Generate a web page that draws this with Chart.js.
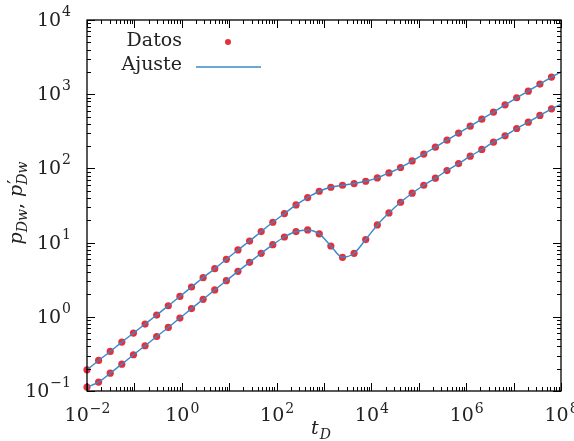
<!DOCTYPE html>
<html>
<head>
<meta charset="utf-8">
<script src="https://cdn.jsdelivr.net/npm/chart.js@4.4.1/dist/chart.umd.min.js"></script>
<style>
  body { margin: 0; background: #fff; }
  #wrap { width: 574px; height: 441px; }
</style>
</head>
<body>
<div id="wrap"><canvas id="myChart"></canvas></div>
<script>
// t_D sample times (~4 per decade)
const tD = [0.01, 0.01758, 0.0309, 0.05433, 0.0955, 0.1679, 0.2951, 0.5188, 0.912,
  1.603, 2.818, 4.955, 8.71, 15.31, 26.92, 47.32, 83.18, 146.2, 257.0, 451.9, 794.3,
  1396, 2455, 4315, 7586, 13335, 23442, 41210, 72444, 127350, 223872, 393550, 691831,
  1216186, 2137962, 3758374, 6606934, 11614486, 20417379, 35892193, 63095734];
// p_Dw (upper curve)
const pDw = [0.193, 0.258, 0.341, 0.456, 0.603, 0.798, 1.055, 1.41, 1.88, 2.52, 3.37,
  4.45, 5.95, 7.96, 10.5, 14.1, 18.8, 24.6, 32.2, 40.5, 49.2, 55.7, 59.3, 62.5, 67.1,
  74.5, 86.9, 102.8, 126, 156, 193, 240, 299, 371, 461, 573, 719, 895, 1100, 1370, 1700];
// p'_Dw (lower curve, derivative)
const dpDw = [0.113, 0.132, 0.174, 0.23, 0.308, 0.407, 0.543, 0.719, 0.962, 1.29, 1.72,
  2.3, 3.07, 4.1, 5.42, 7.18, 9.39, 11.9, 14.1, 14.8, 13.1, 9.0, 6.34, 7.18, 11.0, 17.3,
  25.1, 35.0, 46.3, 59.3, 73.8, 93.6, 116, 146, 180, 226, 275, 345, 420, 518, 635];
// where the fitted lines reach the right edge
const tFitEnd = [1e8];
const pDwFitEnd = [2000];
const dpDwFitEnd = [728];

const xTickExps = [-2, 0, 2, 4, 6, 8];
const yTickExps = [-1, 0, 1, 2, 3, 4];
const legendLabels = ['Datos', 'Ajuste'];

const serif = '"DejaVu Serif", serif';
const dotColor = 'rgba(226, 30, 42, 0.92)';
const lineColor = '#3a88c6';

function toPoints(xs, ys) {
  return xs.map((x, i) => ({ x: x, y: ys[i] }));
}

function supText(e) {
  return e < 0 ? '\u2212' + Math.abs(e) : String(e);
}

const axesPlugin = {
  id: 'axesPlugin',
  afterDraw(chart) {
    const ctx = chart.ctx;
    const a = chart.chartArea;
    const sx = chart.scales.x, sy = chart.scales.y;
    ctx.save();
    ctx.strokeStyle = '#000';

    // inward ticks on all four sides
    ctx.lineWidth = 1;
    ctx.beginPath();
    for (let e = -2; e <= 8; e++) {
      for (let m = 1; m < 10; m++) {
        const v = m * Math.pow(10, e);
        if (v > 1.0001e8) break;
        const px = Math.round(sx.getPixelForValue(v)) + 0.5;
        const len = m === 1 ? 8 : 4;
        ctx.moveTo(px, a.bottom); ctx.lineTo(px, a.bottom - len);
        ctx.moveTo(px, a.top); ctx.lineTo(px, a.top + len);
      }
    }
    for (let e = -1; e <= 4; e++) {
      for (let m = 1; m < 10; m++) {
        const v = m * Math.pow(10, e);
        if (v > 1.0001e4) break;
        const py = Math.round(sy.getPixelForValue(v)) + 0.5;
        const len = m === 1 ? 8 : 4;
        ctx.moveTo(a.left, py); ctx.lineTo(a.left + len, py);
        ctx.moveTo(a.right, py); ctx.lineTo(a.right - len, py);
      }
    }
    ctx.stroke();

    ctx.lineWidth = 1.3;
    ctx.strokeRect(a.left, a.top, a.right - a.left, a.bottom - a.top);

    // tick labels 10^n
    const mainFont = '19px ' + serif, supFont = '14px ' + serif;
    ctx.fillStyle = '#222';
    ctx.textBaseline = 'alphabetic';
    ctx.textAlign = 'left';
    xTickExps.forEach(e => {
      const px = sx.getPixelForValue(Math.pow(10, e));
      ctx.font = mainFont;
      const w1 = ctx.measureText('10').width;
      ctx.font = supFont;
      const w2 = ctx.measureText(supText(e)).width;
      const x0 = px - (w1 + w2) / 2;
      ctx.font = mainFont;
      ctx.fillText('10', x0, a.bottom + 30);
      ctx.font = supFont;
      ctx.fillText(supText(e), x0 + w1 + 1, a.bottom + 22);
    });
    yTickExps.forEach(e => {
      const py = sy.getPixelForValue(Math.pow(10, e));
      ctx.font = supFont;
      const w2 = ctx.measureText(supText(e)).width;
      ctx.font = mainFont;
      const w1 = ctx.measureText('10').width;
      const x0 = a.left - 17 - w2 - w1;
      ctx.fillText('10', x0, py + 6);
      ctx.font = supFont;
      ctx.fillText(supText(e), x0 + w1 + 1, py - 4);
    });

    // x title t_D
    ctx.font = 'italic 19px ' + serif;
    const tw = ctx.measureText('t').width;
    ctx.fillText('t', 311, 434);
    ctx.font = 'italic 14px ' + serif;
    ctx.fillText('D', 311 + tw + 1, 439);

    // y title p_Dw, p'_Dw (rotated)
    const parts = [
      ['p', 'italic 19px ', 0], ['Dw', 'italic 14px ', 5], [', ', '19px ', 0],
      ['p', 'italic 19px ', 0], ['\u2032', '18px ', -1], ['Dw', 'italic 14px ', 5]
    ];
    let total = 0;
    const widths = parts.map(p => {
      ctx.font = p[1] + serif;
      const w = ctx.measureText(p[0]).width;
      total += w;
      return w;
    });
    total -= widths[4];
    ctx.translate(22, 203);
    ctx.rotate(-Math.PI / 2);
    let cx = -total / 2;
    parts.forEach((p, i) => {
      ctx.font = p[1] + serif;
      // prime sits over the subscript of the second p
      if (i === 5) cx -= widths[4];
      ctx.fillText(p[0], cx + (i === 4 ? 1 : 0), p[2]);
      cx += widths[i];
    });
    ctx.restore();

    // legend in the upper left corner
    ctx.save();
    ctx.fillStyle = '#222';
    ctx.font = '19px ' + serif;
    ctx.textAlign = 'right';
    ctx.fillText(legendLabels[0], 182, 46);
    ctx.fillText(legendLabels[1], 182, 70);
    ctx.fillStyle = dotColor;
    ctx.beginPath();
    ctx.arc(228, 42, 3, 0, Math.PI * 2);
    ctx.fill();
    ctx.strokeStyle = lineColor;
    ctx.lineWidth = 1.5;
    ctx.beginPath();
    ctx.moveTo(196, 67);
    ctx.lineTo(261, 67);
    ctx.stroke();
    ctx.restore();
  }
};

const ctx = document.getElementById('myChart');

new Chart(ctx, {
  type: 'scatter',
  data: {
    datasets: [
      {
        label: legendLabels[1],
        data: toPoints(tD.concat(tFitEnd), pDw.concat(pDwFitEnd)),
        showLine: true,
        borderColor: lineColor,
        borderWidth: 1.4,
        pointRadius: 0,
        cubicInterpolationMode: 'monotone',
        order: 0
      },
      {
        label: legendLabels[1],
        data: toPoints(tD.concat(tFitEnd), dpDw.concat(dpDwFitEnd)),
        showLine: true,
        borderColor: lineColor,
        borderWidth: 1.4,
        pointRadius: 0,
        cubicInterpolationMode: 'monotone',
        order: 0
      },
      {
        label: legendLabels[0],
        data: toPoints(tD, pDw),
        backgroundColor: dotColor,
        borderWidth: 0,
        pointRadius: 3.6,
        clip: false,
        order: 1
      },
      {
        label: legendLabels[0],
        data: toPoints(tD, dpDw),
        backgroundColor: dotColor,
        borderWidth: 0,
        pointRadius: 3.6,
        clip: false,
        order: 1
      }
    ]
  },
  options: {
    responsive: true,
    maintainAspectRatio: false,
    animation: false,
    layout: { padding: { left: 87, right: 13, top: 20, bottom: 50 } },
    plugins: {
      legend: { display: false },
      tooltip: { enabled: false }
    },
    scales: {
      x: { type: 'logarithmic', min: 1e-2, max: 1e8, display: false },
      y: { type: 'logarithmic', min: 1e-1, max: 1e4, display: false }
    }
  },
  plugins: [axesPlugin]
});
</script>
</body>
</html>
